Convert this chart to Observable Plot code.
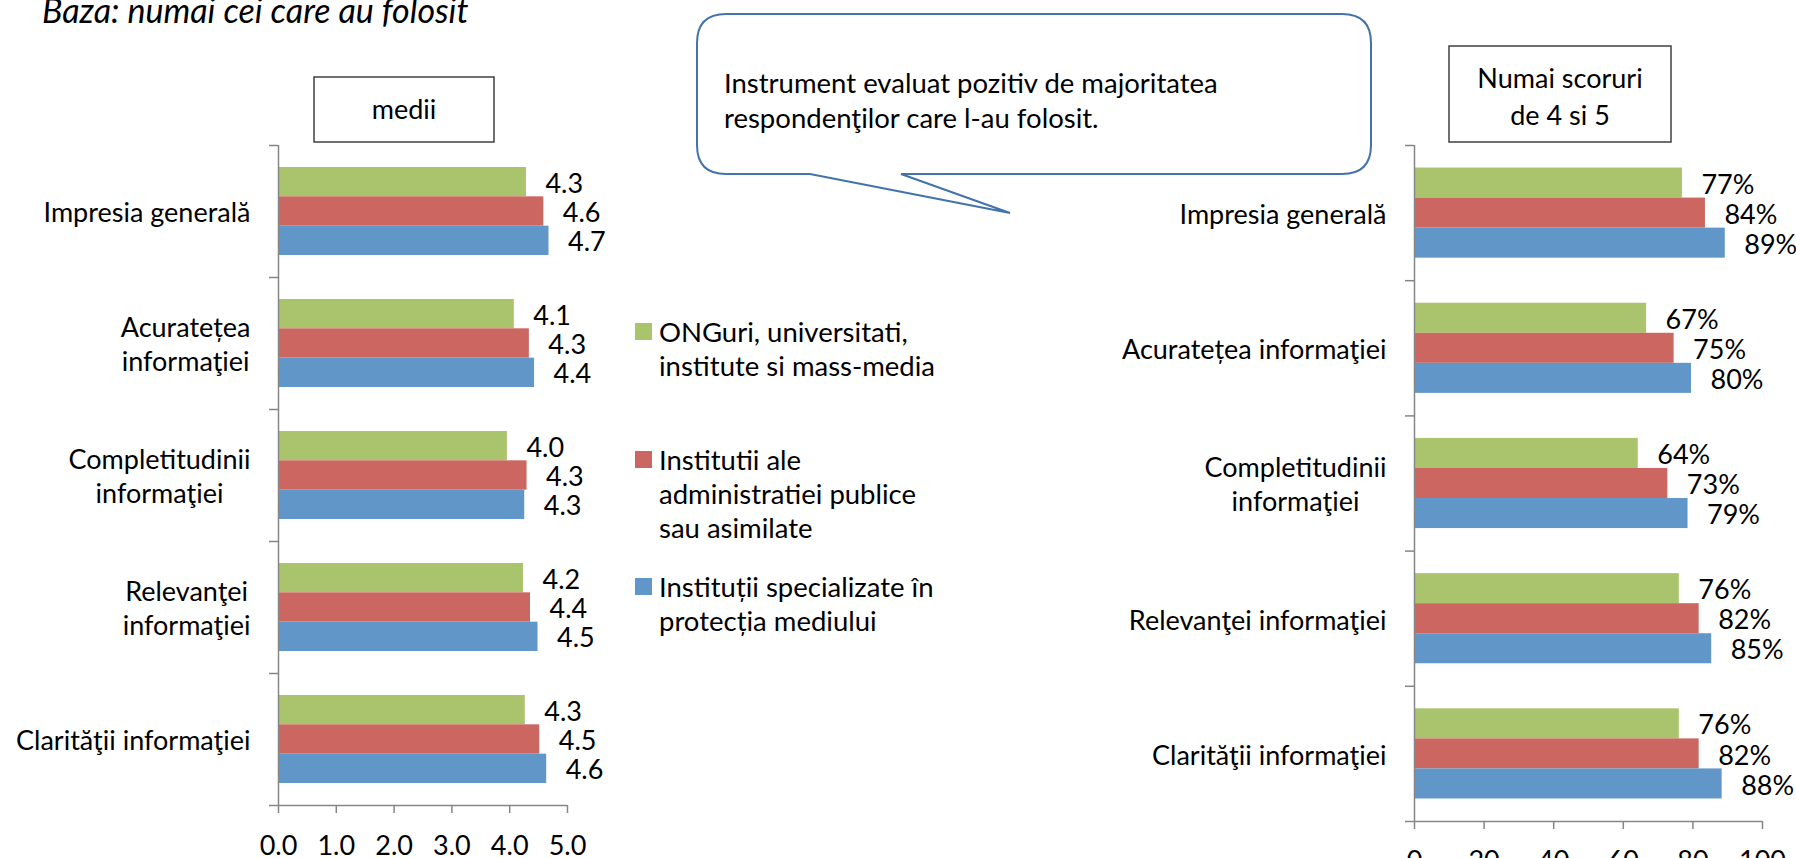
<!DOCTYPE html>
<html>
<head>
<meta charset="utf-8">
<script src="https://cdn.jsdelivr.net/npm/d3@7"></script>
<script src="https://cdn.jsdelivr.net/npm/@observablehq/plot@0.6"></script>
<style>
  html, body { margin: 0; padding: 0; background: #fff; overflow: hidden; width: 1796px; height: 858px; }
  body { position: relative; font-family: Lato, "Open Sans", sans-serif; color: #000; }
  .abs { position: absolute; top: 0; }
  #overlay { position: absolute; left: 0; top: 0; width: 1796px; height: 858px; pointer-events: none; }
  #overlay text { font-family: Lato, "Open Sans", sans-serif; fill: #000; }
</style>
</head>
<body>
<div id="left" class="abs" style="left:0px"></div>
<div id="right" class="abs" style="left:1060px"></div>
<svg id="overlay" width="1796" height="858" xmlns="http://www.w3.org/2000/svg">
  <text x="42" y="23" font-size="34" font-style="italic">Baza: numai cei care au folosit</text>
  <rect x="314" y="77" width="180" height="65" fill="#fff" stroke="#404040" stroke-width="1.5"></rect>
  <text x="404" y="119" font-size="27" text-anchor="middle">medii</text>
  <rect x="1449" y="46" width="222" height="96" fill="#fff" stroke="#404040" stroke-width="1.5"></rect>
  <text x="1560" y="88" font-size="27" text-anchor="middle">Numai scoruri</text>
  <text x="1560" y="125" font-size="27" text-anchor="middle">de 4 si 5</text>
  <path d="M726,14 H1342 Q1371,14 1371,43 V145 Q1371,174 1342,174 H901 L1010,213 L810,174 H726 Q697,174 697,145 V43 Q697,14 726,14 Z" fill="#fff" stroke="#4273ab" stroke-width="2"></path>
  <text x="724" y="93" font-size="27.5">Instrument evaluat pozitiv de majoritatea</text>
  <text x="724" y="128" font-size="27.5">respondenţilor care l-au folosit.</text>
  <g id="legend"></g>
</svg>
<script>
// ---------- data ----------
const categoriesLeft = ["Impresia generală", "Acuratețea\ninformaţiei", "Completitudinii\ninformaţiei", "Relevanţei\ninformaţiei", "Clarităţii informaţiei"];
const categoriesRight = ["Impresia generală", "Acuratețea informaţiei", "Completitudinii\ninformaţiei", "Relevanţei informaţiei", "Clarităţii informaţiei"];
const seriesNames = ["ONGuri, universitati,\ninstitute si mass-media", "Institutii ale\nadministratiei publice\nsau asimilate", "Instituții specializate în\nprotecția mediului"];
const seriesColors = ["#AAC46D", "#CC6661", "#6196C9"];

// mean scores (medii)
const meanOng  = [4.29, 4.08, 3.96, 4.24, 4.27];
const meanAdm  = [4.59, 4.34, 4.30, 4.36, 4.52];
const meanSpec = [4.68, 4.43, 4.26, 4.49, 4.64];

// share of 4 and 5 scores (%)
const pctOng  = [77.0, 66.7, 64.3, 76.1, 76.1];
const pctAdm  = [83.6, 74.6, 72.8, 81.8, 81.8];
const pctSpec = [89.3, 79.6, 78.6, 85.4, 88.4];

const xTicksLeft = [0, 1, 2, 3, 4, 5];
const xTicksRight = [0, 20, 40, 60, 80, 100];

// ---------- helpers ----------
const GRAY = "#868686";
const FONT = "Lato, 'Open Sans', sans-serif";
const PAD = 1 / 6;            // gap on each side of a bar group (fraction of category band)
const BAR = (1 - 2 * PAD) / 3; // each bar's share of the band

function rows(cats, arrays) {
  const out = [];
  cats.forEach((c, i) => arrays.forEach((arr, s) => out.push({cat: c, ci: i, s, series: seriesNames[s], value: arr[i]})));
  return out;
}

function centerMultiline(svg) {
  svg.querySelectorAll("text").forEach(t => {
    const spans = t.querySelectorAll("tspan");
    if (spans.length < 2) return;
    let w = 0;
    spans.forEach(sp => { w = Math.max(w, sp.getComputedTextLength()); });
    const anchor = t.getAttribute("text-anchor") || (t.parentNode && t.parentNode.getAttribute("text-anchor"));
    if (anchor !== "end") return;
    t.setAttribute("text-anchor", "middle");
    spans.forEach(sp => sp.setAttribute("x", -w / 2));
  });
}

function makeChart({cats, arrays, xDomain, xTicks, xFormat, labelFormat, width, height, marginLeft, marginRight, marginTop, marginBottom, tickPadding}) {
  const data = rows(cats, arrays);
  const n = cats.length;
  return Plot.plot({
    width, height, marginLeft, marginRight, marginTop, marginBottom,
    style: {fontFamily: FONT, fontSize: "27px", color: "#000", background: "transparent", overflow: "visible"},
    x: {domain: xDomain},
    y: {domain: [0, n], reverse: true},
    color: {domain: seriesNames, range: seriesColors},
    marks: [
      Plot.rect(data, {
        x1: () => 0,
        x2: "value",
        y1: d => d.ci + PAD + d.s * BAR,
        y2: d => d.ci + PAD + (d.s + 1) * BAR,
        fill: "series"
      }),
      Plot.text(data, {
        x: "value",
        y: d => d.ci + PAD + (d.s + 0.5) * BAR,
        text: d => labelFormat(d.value),
        textAnchor: "start",
        dx: 19, dy: 2,
        fontSize: 27, fill: "#000"
      }),
      Plot.ruleX([0], {stroke: GRAY, strokeWidth: 1.5}),
      Plot.ruleY([n], {stroke: GRAY, strokeWidth: 1.5}),
      Plot.axisY(d3.range(n + 1), {tickSize: 9, tickFormat: () => "", stroke: GRAY, strokeWidth: 1.5, label: null}),
      Plot.axisY(cats.map((c, i) => i + 0.5), {
        tickSize: 0, tickPadding: 28, tickFormat: d => cats[Math.floor(d)],
        fontSize: 27, lineHeight: 1.26, fill: "#000", label: null
      }),
      Plot.axisX(xTicks, {
        tickSize: 8, tickPadding, tickFormat: xFormat,
        stroke: GRAY, strokeWidth: 1.5, fontSize: 27, fill: "#000", label: null
      })
    ]
  });
}

const left = makeChart({
  cats: categoriesLeft, arrays: [meanOng, meanAdm, meanSpec],
  xDomain: [0, 5], xTicks: xTicksLeft, xFormat: d => d.toFixed(1), labelFormat: v => v.toFixed(1),
  width: 620, height: 900, marginLeft: 278, marginRight: 53, marginTop: 145, marginBottom: 95, tickPadding: 22
});
document.getElementById("left").appendChild(left);
centerMultiline(left);

const right = makeChart({
  cats: categoriesRight, arrays: [pctOng, pctAdm, pctSpec],
  xDomain: [0, 100], xTicks: xTicksRight, xFormat: d => String(d), labelFormat: v => Math.round(v) + "%",
  width: 736, height: 900, marginLeft: 354, marginRight: 34, marginTop: 145, marginBottom: 79, tickPadding: 21
});
document.getElementById("right").appendChild(right);
centerMultiline(right);

// ---------- legend ----------
const legendTops = [323, 451, 578];
const NS = "http://www.w3.org/2000/svg";
const lg = document.getElementById("legend");
seriesNames.forEach((name, i) => {
  const r = document.createElementNS(NS, "rect");
  r.setAttribute("x", 635); r.setAttribute("y", legendTops[i]);
  r.setAttribute("width", 17); r.setAttribute("height", 17);
  r.setAttribute("fill", seriesColors[i]);
  lg.appendChild(r);
  name.split("\n").forEach((line, j) => {
    const t = document.createElementNS(NS, "text");
    t.setAttribute("x", 659);
    t.setAttribute("y", legendTops[i] + 19 + j * 34);
    t.setAttribute("font-size", 27.5);
    t.textContent = line;
    lg.appendChild(t);
  });
});
</script>
</body>
</html>
